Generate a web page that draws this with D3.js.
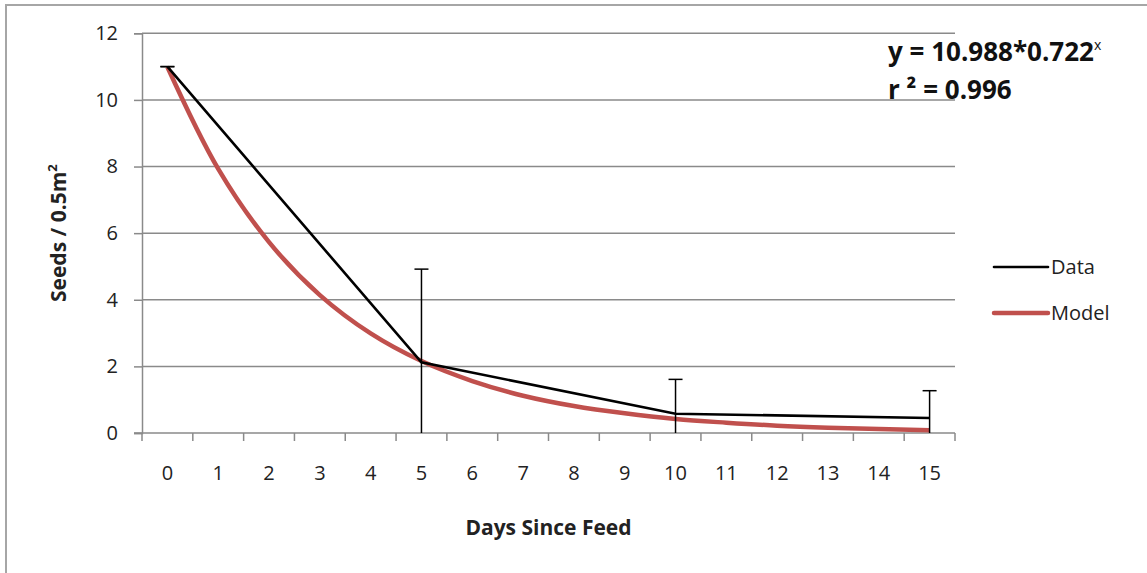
<!DOCTYPE html>
<html>
<head>
<meta charset="utf-8">
<script src="https://cdn.jsdelivr.net/npm/d3@7"></script>
<style>
html,body{margin:0;padding:0;background:#fff;}
svg{display:block;font-family:"Open Sans",Lato,sans-serif;}
</style>
</head>
<body>
<svg id="chart" width="1147" height="573"></svg>
<script>
// ---- data ----
const days = [0,1,2,3,4,5,6,7,8,9,10,11,12,13,14,15];
const modelValues = [10.99,7.93,5.73,4.14,2.99,2.16,1.56,1.12,0.81,0.59,0.42,0.31,0.22,0.16,0.12,0.08];
const dataDays = [0,5,10,15];
const dataValues = [11.0,2.12,0.58,0.45];
const dataErrors = [0,2.8,1.03,0.82];
const yTicks = [0,2,4,6,8,10,12];
const equationText = "y = 10.988*0.722";
const r2Text = "r ² = 0.996";

// ---- layout ----
const W = 1147, H = 573;
const m = {left:142, right:955, top:33.3, bottom:433};
const grid = "#8a8a8a";
const red = "#C0504D";
const font = "'Open Sans',sans-serif";

const svg = d3.select("#chart");

// outer frame
svg.append("path")
  .attr("d", `M6,${H+2}V5H${W+2}`)
  .attr("fill","none").attr("stroke","#a6a6a6").attr("stroke-width",2);

const x = d3.scaleBand().domain(days).range([m.left, m.right]).paddingInner(0).paddingOuter(0);
const xc = d => x(d) + x.bandwidth()/2;
const y = d3.scaleLinear().domain([0,12]).range([m.bottom, m.top]);

// gridlines
svg.append("g").selectAll("line").data(yTicks.filter(t=>t>0)).join("line")
  .attr("x1", m.left).attr("x2", m.right)
  .attr("y1", d=>y(d)).attr("y2", d=>y(d))
  .attr("stroke", grid).attr("stroke-width",1.5);

// y axis
const yAxis = svg.append("g").attr("transform",`translate(${m.left},0)`)
  .call(d3.axisLeft(y).tickValues(yTicks).tickSize(8).tickPadding(16).tickFormat(d3.format("d")));
yAxis.select(".domain").attr("stroke",grid).attr("stroke-width",1.5);
yAxis.selectAll(".tick line").attr("stroke",grid).attr("stroke-width",1.5);
yAxis.selectAll("text").attr("font-size",20).attr("fill","#222").attr("font-family",font);

// x axis: labels at band centers
const xAxis = svg.append("g").attr("transform",`translate(0,${m.bottom})`)
  .call(d3.axisBottom(x).tickSize(0).tickPadding(33));
xAxis.select(".domain").remove();
xAxis.selectAll("text").attr("font-size",20).attr("fill","#222").attr("font-family",font);
// x axis line and tick marks between categories
svg.append("line").attr("x1",m.left-8).attr("x2",m.right).attr("y1",m.bottom).attr("y2",m.bottom)
  .attr("stroke",grid).attr("stroke-width",1.5);
const boundaries = days.map(d=>x(d)).concat([m.right]);
svg.append("g").selectAll("line").data(boundaries).join("line")
  .attr("x1",d=>d).attr("x2",d=>d).attr("y1",m.bottom).attr("y2",m.bottom+8)
  .attr("stroke",grid).attr("stroke-width",1.5);

// model curve
const modelLine = d3.line().x((d,i)=>xc(days[i])).y(d=>y(d)).curve(d3.curveCatmullRom.alpha(0.5));
svg.append("path").datum(modelValues).attr("d",modelLine)
  .attr("fill","none").attr("stroke",red).attr("stroke-width",4.5).attr("stroke-linejoin","round");

// data line
const dataLine = d3.line().x((d,i)=>xc(dataDays[i])).y(d=>y(d));
svg.append("path").datum(dataValues).attr("d",dataLine)
  .attr("fill","none").attr("stroke","#000").attr("stroke-width",2.6);

// error bars
const eb = svg.append("g");
dataDays.forEach((d,i)=>{
  const top = dataValues[i]+dataErrors[i];
  const bot = Math.max(0, dataValues[i]-dataErrors[i]);
  const cx = xc(d);
  eb.append("line").attr("x1",cx).attr("x2",cx).attr("y1",y(top)).attr("y2",y(bot))
    .attr("stroke","#000").attr("stroke-width",1.5);
  eb.append("line").attr("x1",cx-7).attr("x2",cx+7).attr("y1",y(top)).attr("y2",y(top))
    .attr("stroke","#000").attr("stroke-width",1.5);
  if (dataValues[i]-dataErrors[i] > 0 || dataErrors[i]===0) {
    eb.append("line").attr("x1",cx-7).attr("x2",cx+7).attr("y1",y(bot)).attr("y2",y(bot))
      .attr("stroke","#000").attr("stroke-width",1.5);
  }
});

// axis titles
svg.append("text").attr("x",(m.left+m.right)/2).attr("y",535)
  .attr("text-anchor","middle").attr("font-size",21).attr("font-weight","bold").attr("fill","#222")
  .attr("font-family",font).text("Days Since Feed");
const yl = svg.append("text").attr("transform",`translate(66,${(m.top+m.bottom)/2}) rotate(-90)`)
  .attr("text-anchor","middle").attr("font-size",21).attr("font-weight","bold").attr("fill","#222")
  .attr("font-family",font);
yl.append("tspan").text("Seeds / 0.5m");
yl.append("tspan").attr("font-size",13).attr("dy",-9).text("2");

// equation
const eq = svg.append("text").attr("x",888).attr("y",61).attr("font-size",26).attr("font-weight","bold")
  .attr("fill","#111").attr("font-family",font);
eq.append("tspan").text(equationText);
eq.append("tspan").attr("font-size",14).attr("font-weight","normal").attr("dy",-11).text("x");
svg.append("text").attr("x",888).attr("y",99).attr("font-size",26).attr("font-weight","bold").attr("fill","#111")
  .attr("font-family",font).text(r2Text);

// legend
const legend = [{name:"Data",color:"#000",w:2.6,y:267},{name:"Model",color:red,w:4.5,y:313}];
const lg = svg.append("g");
legend.forEach(l=>{
  lg.append("line").attr("x1",994).attr("x2",1048).attr("y1",l.y).attr("y2",l.y)
    .attr("stroke",l.color).attr("stroke-width",l.w).attr("stroke-linecap","round");
  lg.append("text").attr("x",1051).attr("y",l.y+7).attr("font-size",20).attr("fill","#222")
    .attr("font-family",font).text(l.name);
});
</script>
</body>
</html>
